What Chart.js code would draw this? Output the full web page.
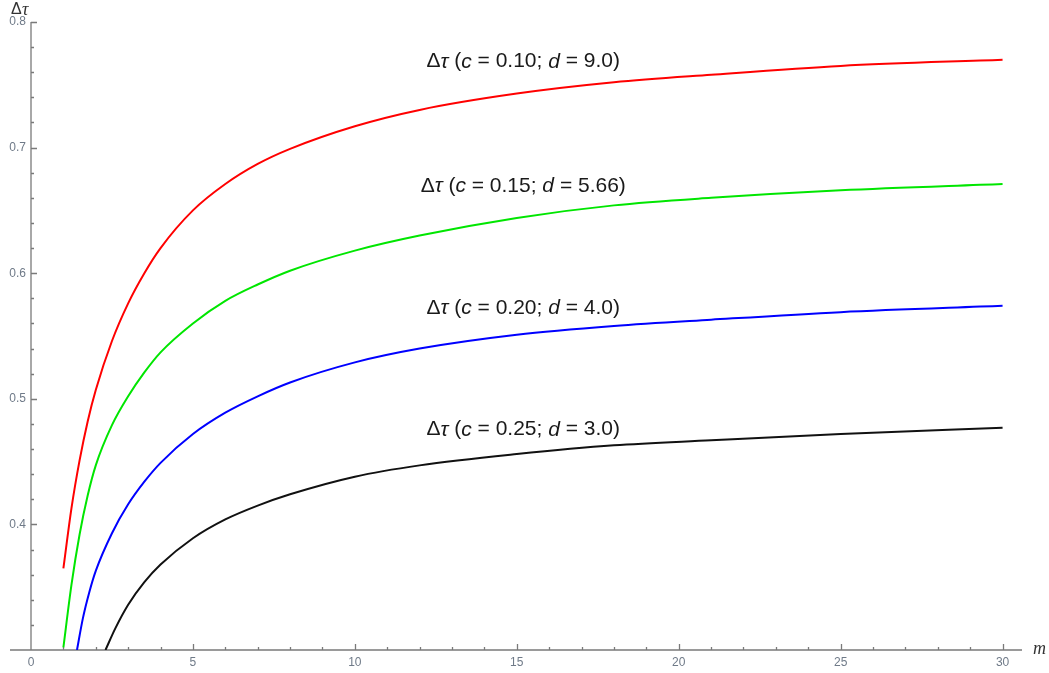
<!DOCTYPE html>
<html>
<head>
<meta charset="utf-8">
<script src="https://cdn.jsdelivr.net/npm/chart.js@4.4.1/dist/chart.umd.min.js"></script>
<style>
  html, body { margin: 0; padding: 0; background: #fff; }
  #wrap { width: 1049px; height: 673px; position: relative; }
</style>
</head>
<body>
<div id="wrap"><canvas id="tauChart"></canvas></div>
<script>
// values (m on x, Δτ on y)
const mRed   = [1, 1.25, 1.5, 1.75, 2, 2.5, 3, 3.5, 4, 5, 6, 7, 8, 10, 12, 15, 18, 21, 25, 30];
const tauRed = [0.365, 0.413, 0.451, 0.482, 0.507, 0.546, 0.576, 0.600, 0.620, 0.650, 0.671, 0.687, 0.699, 0.717, 0.730, 0.743, 0.752, 0.758, 0.765, 0.770];

const mGreen   = [1, 1.25, 1.5, 1.75, 2, 2.5, 3, 3.5, 4, 5, 6, 7, 8, 10, 12, 15, 18, 21, 25, 30];
const tauGreen = [0.302, 0.352, 0.392, 0.423, 0.447, 0.479, 0.502, 0.521, 0.537, 0.560, 0.578, 0.591, 0.602, 0.618, 0.630, 0.644, 0.654, 0.660, 0.666, 0.671];

const mBlue   = [1.42, 1.6, 1.8, 2, 2.5, 3, 3.5, 4, 5, 6, 7, 8, 10, 12, 15, 18, 21, 25, 30];
const tauBlue = [0.300, 0.325, 0.346, 0.363, 0.393, 0.416, 0.434, 0.449, 0.472, 0.489, 0.502, 0.513, 0.529, 0.540, 0.551, 0.558, 0.563, 0.569, 0.574];

const mBlack   = [2.3, 2.6, 3, 3.5, 4, 5, 6, 7, 8, 10, 12, 15, 18, 21, 25, 30];
const tauBlack = [0.300, 0.317, 0.336, 0.354, 0.368, 0.389, 0.404, 0.415, 0.424, 0.438, 0.447, 0.456, 0.463, 0.467, 0.472, 0.477];

const cValues = ['0.10', '0.15', '0.20', '0.25'];
const dValues = ['9.0', '5.66', '4.0', '3.0'];
const lineColors = ['#ff0000', '#00e600', '#0000ff', '#111111'];

const xTicks = [0, 5, 10, 15, 20, 25, 30];
const yTicks = [0.4, 0.5, 0.6, 0.7, 0.8];

const AXIS = '#7a7a7a';
const TICK_TEXT = '#6f7a88';
const LABEL_M = 15.2;

function pairs(ms, taus) {
  return ms.map((m, i) => ({ x: m, y: taus[i] }));
}

const series = [pairs(mRed, tauRed), pairs(mGreen, tauGreen), pairs(mBlue, tauBlue), pairs(mBlack, tauBlack)];

// draw text made of normal / italic pieces, centred on (cx, cy)
function drawRich(ctx, parts, cx, cy, size) {
  const font = it => (it ? 'italic ' : '') + size + 'px "Liberation Sans", Arial, sans-serif';
  let total = 0;
  parts.forEach(p => { ctx.font = font(p[1]); total += ctx.measureText(p[0]).width; });
  let x = cx - total / 2;
  ctx.textBaseline = 'middle';
  ctx.textAlign = 'left';
  parts.forEach(p => {
    ctx.font = font(p[1]);
    ctx.fillText(p[0], x, cy);
    x += ctx.measureText(p[0]).width;
  });
}

const axesPlugin = {
  id: 'mathAxes',
  beforeDatasetsDraw(chart) {
    const { ctx, scales: { x, y } } = chart;
    const x0 = x.getPixelForValue(0);
    const yb = y.getPixelForValue(0.3);
    const yt = y.getPixelForValue(0.8);
    ctx.save();
    ctx.strokeStyle = AXIS;
    ctx.lineWidth = 1.3;
    ctx.beginPath();
    ctx.moveTo(10, yb); ctx.lineTo(x.right, yb);
    ctx.moveTo(x0, yb); ctx.lineTo(x0, yt);
    for (let m = 1; m <= 30; m++) {
      const px = Math.round(x.getPixelForValue(m)) + 0.5;
      const len = m % 5 === 0 ? 6 : 3;
      ctx.moveTo(px, yb); ctx.lineTo(px, yb - len);
    }
    for (let k = 16; k <= 40; k++) {
      const py = Math.round(y.getPixelForValue(k / 50)) + 0.5;
      const len = k % 5 === 0 ? 6 : 3;
      ctx.moveTo(x0, py); ctx.lineTo(x0 + len, py);
    }
    ctx.stroke();
    ctx.restore();
  },
  afterDatasetsDraw(chart) {
    const { ctx, scales: { x, y } } = chart;
    ctx.save();
    ctx.fillStyle = '#1a1a1a';
    series.forEach((pts, i) => {
      const last = pts[pts.length - 1].y;
      drawRich(ctx, [['Δ', false], ['τ', true], [' (', false], ['c', true],
        [' = ' + cValues[i] + '; ', false], ['d', true], [' = ' + dValues[i] + ')', false]],
        x.getPixelForValue(LABEL_M), y.getPixelForValue(last) + 2, 21);
    });
    // axis names
    ctx.fillStyle = '#333';
    ctx.textBaseline = 'middle';
    ctx.textAlign = 'left';
    ctx.font = '16px "Liberation Sans", sans-serif';
    ctx.fillText('Δ', 11, 10);
    ctx.font = 'italic 18px "Liberation Serif", serif';
    ctx.fillText('τ', 22, 10);
    ctx.font = 'italic 18px "Liberation Serif", serif';
    ctx.fillText('m', 1033, y.getPixelForValue(0.3) - 1);
    ctx.restore();
  }
};

new Chart(document.getElementById('tauChart'), {
  type: 'line',
  data: {
    datasets: series.map((pts, i) => ({
      label: 'c = ' + cValues[i],
      data: pts,
      borderColor: lineColors[i],
      borderWidth: 2,
      pointRadius: 0,
      fill: false,
      cubicInterpolationMode: 'monotone'
    }))
  },
  options: {
    responsive: true,
    maintainAspectRatio: false,
    animation: false,
    layout: { padding: { top: 22, right: 27, left: 0, bottom: 0 } },
    plugins: { legend: { display: false }, tooltip: { enabled: false } },
    scales: {
      x: {
        type: 'linear',
        min: 0,
        max: 30.6,
        border: { display: false },
        grid: { display: false, drawTicks: false },
        afterFit: s => { s.height = 23; },
        ticks: {
          stepSize: 5,
          includeBounds: false,
          padding: 5,
          color: TICK_TEXT,
          font: { size: 12, family: '"Liberation Sans", sans-serif' },
          maxRotation: 0,
          callback: v => xTicks.includes(v) ? String(v) : ''
        }
      },
      y: {
        type: 'linear',
        min: 0.3,
        max: 0.8,
        border: { display: false },
        grid: { display: false, drawTicks: false },
        afterFit: s => { s.width = 31; },
        ticks: {
          stepSize: 0.1,
          padding: 5,
          color: TICK_TEXT,
          font: { size: 12, family: '"Liberation Sans", sans-serif' },
          callback: v => yTicks.some(t => Math.abs(t - v) < 1e-6) ? v.toFixed(1) : ''
        }
      }
    }
  },
  plugins: [axesPlugin]
});
</script>
</body>
</html>
